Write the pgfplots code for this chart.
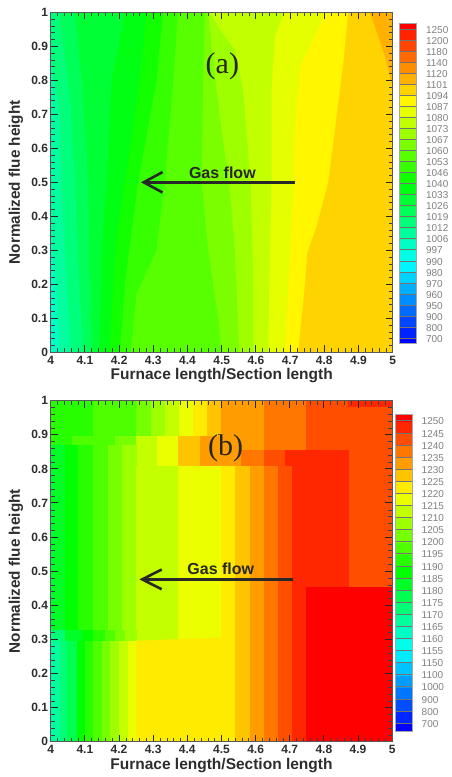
\documentclass[border=0pt]{standalone}
\usepackage{fontspec}
\setmainfont{Liberation Sans}
\newfontfamily\serfont{Liberation Serif}
\usepackage{pgfplots}
\pgfplotsset{compat=1.18}
% palette of the panel (a) legend
\definecolor{A0}{RGB}{0,0,255}\definecolor{A1}{RGB}{0,35,255}\definecolor{A2}{RGB}{0,70,255}
\definecolor{A3}{RGB}{0,106,255}\definecolor{A4}{RGB}{0,141,255}\definecolor{A5}{RGB}{0,176,255}
\definecolor{A6}{RGB}{0,211,255}\definecolor{A7}{RGB}{0,246,255}\definecolor{A8}{RGB}{0,255,229}
\definecolor{A9}{RGB}{0,255,194}\definecolor{A10}{RGB}{0,255,158}\definecolor{A11}{RGB}{0,255,123}
\definecolor{A12}{RGB}{0,255,88}\definecolor{A13}{RGB}{0,255,53}\definecolor{A14}{RGB}{0,255,18}
\definecolor{A15}{RGB}{18,255,0}\definecolor{A16}{RGB}{53,255,0}\definecolor{A17}{RGB}{88,255,0}
\definecolor{A18}{RGB}{123,255,0}\definecolor{A19}{RGB}{158,255,0}\definecolor{A20}{RGB}{194,255,0}
\definecolor{A21}{RGB}{229,255,0}\definecolor{A22}{RGB}{255,246,0}\definecolor{A23}{RGB}{255,211,0}
\definecolor{A24}{RGB}{255,176,0}\definecolor{A25}{RGB}{255,141,0}\definecolor{A26}{RGB}{255,106,0}
\definecolor{A27}{RGB}{255,70,0}\definecolor{A28}{RGB}{255,35,0}\definecolor{A29}{RGB}{255,0,0}
% palette of the panel (b) legend
\definecolor{B0}{RGB}{0,0,255}\definecolor{B1}{RGB}{0,39,255}\definecolor{B2}{RGB}{0,78,255}
\definecolor{B3}{RGB}{0,118,255}\definecolor{B4}{RGB}{0,157,255}\definecolor{B5}{RGB}{0,196,255}
\definecolor{B6}{RGB}{0,235,255}\definecolor{B7}{RGB}{0,255,235}\definecolor{B8}{RGB}{0,255,196}
\definecolor{B9}{RGB}{0,255,157}\definecolor{B10}{RGB}{0,255,118}\definecolor{B11}{RGB}{0,255,78}
\definecolor{B12}{RGB}{0,255,39}\definecolor{B13}{RGB}{0,255,0}\definecolor{B14}{RGB}{39,255,0}
\definecolor{B15}{RGB}{78,255,0}\definecolor{B16}{RGB}{118,255,0}\definecolor{B17}{RGB}{157,255,0}
\definecolor{B18}{RGB}{196,255,0}\definecolor{B19}{RGB}{235,255,0}\definecolor{B20}{RGB}{255,235,0}
\definecolor{B21}{RGB}{255,196,0}\definecolor{B22}{RGB}{255,157,0}\definecolor{B23}{RGB}{255,118,0}
\definecolor{B24}{RGB}{255,78,0}\definecolor{B25}{RGB}{255,39,0}\definecolor{B26}{RGB}{255,0,0}
\definecolor{ink}{RGB}{45,45,45}
\definecolor{arrowink}{RGB}{40,40,40}
% polygon of one contour band
\newcommand\Poly[2]{\addplot[fill=#1,draw=#1,line width=.15pt,forget plot] coordinates {#2};}
% rectangle of one contour band or legend cell: colour, x1, x2, y1, y2
\newcommand\Rect[5]{\addplot[fill=#1,draw=#1,line width=.15pt,forget plot] coordinates {(#2,#4)(#3,#4)(#3,#5)(#2,#5)};}
\pgfplotsset{
  field/.style={
    scale only axis, anchor=south west, axis on top,
    xmin=4, xmax=5, ymin=0, ymax=1,
    xtick={4,4.1,4.2,4.3,4.4,4.5,4.6,4.7,4.8,4.9,5},
    ytick={0,0.1,0.2,0.3,0.4,0.5,0.6,0.7,0.8,0.9,1},
    minor tick num=4,
    major tick length=7pt, minor tick length=4pt,
    major tick style={black!85,line width=1pt},
    minor tick style={black!75,line width=.55pt},
    axis line style={black!65,line width=.8pt},
    /pgf/number format/assume math mode=true,
    tick label style={font=\bfseries\fontsize{12}{13}\selectfont,text=ink},
    xticklabel style={inner sep=0pt,yshift=-3.5pt},
    yticklabel style={inner sep=0pt,xshift=-2.5pt},
    every axis x label/.style={at={(axis description cs:0.5,0)},anchor=center,yshift=-23.5pt,font=\bfseries\fontsize{15.5}{16}\selectfont,text=ink},
    every axis y label/.style={at={(axis description cs:0,0.5)},rotate=90,anchor=center,yshift=34.7pt,font=\bfseries\fontsize{15.3}{16}\selectfont,text=ink},
    xlabel={Furnace length/Section length},
    ylabel={Normalized flue height},
  },
  cbar/.style={
    scale only axis, anchor=south west, axis on top,
    xmin=0, xmax=1, xtick=\empty,
    ymajorgrids, grid style={black!55,line width=.5pt},
    major tick length=0pt,
    yticklabel pos=right,
    axis line style={black!35,line width=.8pt},
    /pgf/number format/assume math mode=true,
    yticklabel style={font=\fontsize{10}{11}\selectfont,text=black!50,inner sep=0pt,anchor=west,xshift=9.2pt,yshift=-.8pt},
  },
}
\begin{document}
\begin{tikzpicture}[x=1pt,y=1pt]
\useasboundingbox (0,0) rectangle (452,777);

% ---------- panel (a)
\begin{axis}[field, at={(50.7pt,424.7pt)}, width=342pt, height=340pt]
\Rect{A9}{4}{5}{0}{1}
\Poly{A10}{(4.027,0)(4.016,.2)(4,.35)(4,1)(5,1)(5,0)}
\Poly{A11}{(4.059,0)(4.047,.2)(4.035,.4)(4.032,.5)(4.027,.7)(4.008,.82)(4,.87)(4,1)(5,1)(5,0)}
\Poly{A12}{(4.096,0)(4.084,.2)(4.071,.5)(4.057,.75)(4.037,.9)(4.025,1)(5,1)(5,0)}
\Poly{A13}{(4.120,0)(4.115,.2)(4.110,.5)(4.091,.8)(4.081,.9)(4.071,1)(5,1)(5,0)}
\Poly{A14}{(4.144,0)(4.149,.3)(4.164,.5)(4.178,.8)(4.208,.95)(4.217,1)(5,1)(5,0)}
\Poly{A15}{(4.173,0)(4.188,.3)(4.217,.5)(4.261,.8)(4.281,1)(5,1)(5,0)}
\Poly{A16}{(4.203,0)(4.217,.2)(4.256,.5)(4.310,.8)(4.329,1)(5,1)(5,0)}
\Poly{A17}{(4.235,0)(4.251,.17)(4.310,.3)(4.334,.5)(4.359,.8)(4.373,1)(5,1)(5,0)}
\Poly{A18}{(4.500,0)(4.490,.1)(4.461,.3)(4.442,.5)(4.446,.8)(4.451,1)(5,1)(5,0)}
\Poly{A19}{(4.552,0)(4.539,.3)(4.522,.5)(4.495,.69)(4.476,.85)(4.461,1)(5,1)(5,0)}
\Poly{A20}{(4.593,0)(4.593,.2)(4.585,.5)(4.563,.77)(4.539,.89)(4.495,.95)(4.466,1)(5,1)(5,0)}
\Poly{A21}{(4.636,0)(4.646,.5)(4.646,.77)(4.656,.93)(4.685,1)(5,1)(5,0)}
\Poly{A22}{(4.685,0)(4.711,.5)(4.714,.66)(4.729,.84)(4.792,.97)(4.797,1)(5,1)(5,0)}
\Poly{A23}{(4.724,0)(4.744,.2)(4.750,.29)(4.778,.37)(4.812,.5)(4.856,.85)(4.870,1)(5,1)(5,0)}
\Poly{A24}{(4.934,1)(4.958,.93)(4.978,.87)(5,.78)(5,1)}
\draw[arrowink,line width=2.6pt] (axis cs:4.714,.5) -- (axis cs:4.272,.5);
\draw[arrowink,line width=2.6pt] (axis cs:4.327,.53) -- (axis cs:4.272,.5) -- (axis cs:4.327,.47);
\node[font=\bfseries\fontsize{16}{17}\selectfont,text=arrowink] at (axis cs:4.502,.528) {Gas flow};
\node[font=\serfont\fontsize{30}{32}\selectfont,text=black!85] at (axis cs:4.502,.842) {(a)};
\end{axis}

\begin{axis}[cbar, at={(399.5pt,433.7pt)}, width=17.2pt, height=320pt,
  ymin=-0.48, ymax=28.52,
  ytick={0,1,2,3,4,5,6,7,8,9,10,11,12,13,14,15,16,17,18,19,20,21,22,23,24,25,26,27,28},
  yticklabels={700,800,900,950,960,970,980,990,997,1006,1012,1019,1026,1033,1040,1046,1053,1060,1067,1073,1080,1087,1094,1101,1120,1140,1180,1200,1250}]
\Rect{A0}{0}{1}{-0.48}{0}\Rect{A1}{0}{1}{0}{1}\Rect{A2}{0}{1}{1}{2}\Rect{A3}{0}{1}{2}{3}
\Rect{A4}{0}{1}{3}{4}\Rect{A5}{0}{1}{4}{5}\Rect{A6}{0}{1}{5}{6}\Rect{A7}{0}{1}{6}{7}
\Rect{A8}{0}{1}{7}{8}\Rect{A9}{0}{1}{8}{9}\Rect{A10}{0}{1}{9}{10}\Rect{A11}{0}{1}{10}{11}
\Rect{A12}{0}{1}{11}{12}\Rect{A13}{0}{1}{12}{13}\Rect{A14}{0}{1}{13}{14}\Rect{A15}{0}{1}{14}{15}
\Rect{A16}{0}{1}{15}{16}\Rect{A17}{0}{1}{16}{17}\Rect{A18}{0}{1}{17}{18}\Rect{A19}{0}{1}{18}{19}
\Rect{A20}{0}{1}{19}{20}\Rect{A21}{0}{1}{20}{21}\Rect{A22}{0}{1}{21}{22}\Rect{A23}{0}{1}{22}{23}
\Rect{A24}{0}{1}{23}{24}\Rect{A25}{0}{1}{24}{25}\Rect{A26}{0}{1}{25}{26}\Rect{A27}{0}{1}{26}{27}
\Rect{A28}{0}{1}{27}{28}\Rect{A29}{0}{1}{28}{28.52}
\end{axis}

% ---------- panel (b)
\begin{axis}[field, at={(50.7pt,35.3pt)}, width=341.5pt, height=341pt]
% upper row
\Rect{B14}{4}{4.125}{.87}{1}
\Rect{B15}{4.125}{4.251}{.895}{1}
\Rect{B16}{4.251}{4.293}{.895}{1}
\Rect{B17}{4.293}{4.334}{.895}{1}
\Rect{B18}{4.334}{4.376}{.895}{1}
\Rect{B19}{4.376}{4.417}{.895}{1}
\Rect{B20}{4.417}{4.458}{.895}{1}
\Rect{B21}{4.458}{4.5}{.895}{1}
\Rect{B22}{4.5}{4.624}{.855}{1}
\Rect{B23}{4.624}{4.749}{.855}{1}
\Rect{B24}{4.749}{5}{.453}{1}
\Rect{B25}{4.872}{5}{.985}{1}
% strip under the upper row
\Rect{B15}{4.063}{4.188}{.87}{.895}
\Rect{B16}{4.188}{4.251}{.87}{.895}
\Rect{B18}{4.251}{4.310}{.809}{.895}
\Rect{B19}{4.310}{4.373}{.809}{.895}
\Rect{B21}{4.373}{4.437}{.809}{.895}
\Rect{B22}{4.437}{4.558}{.809}{.895}
\Rect{B23}{4.558}{4.624}{.809}{.855}
\Rect{B24}{4.624}{4.685}{.809}{.855}
\Rect{B25}{4.685}{4.749}{.809}{.855}
\Rect{B25}{4.749}{4.872}{.453}{.855}
% middle columns
\Rect{B12}{4}{4.042}{.3275}{.87}
\Rect{B13}{4.042}{4.081}{.3275}{.87}
\Rect{B14}{4.081}{4.125}{.3275}{.87}
\Rect{B15}{4.125}{4.167}{.3275}{.87}
\Rect{B16}{4.167}{4.208}{.3275}{.87}
\Rect{B17}{4.208}{4.251}{.3275}{.87}
\Rect{B18}{4.251}{4.373}{.296}{.809}
\Rect{B19}{4.373}{4.5}{.296}{.809}
% strip over the lower row
\Rect{B10}{4}{4.042}{.296}{.3275}
\Rect{B12}{4.042}{4.091}{.296}{.3275}
\Rect{B13}{4.091}{4.125}{.296}{.3275}
\Rect{B14}{4.125}{4.159}{.296}{.3275}
\Rect{B15}{4.159}{4.188}{.296}{.3275}
\Rect{B16}{4.188}{4.217}{.296}{.3275}
\Rect{B17}{4.217}{4.251}{.296}{.3275}
% lower columns
\Rect{B9}{4}{4.027}{0}{.296}
\Rect{B10}{4.027}{4.047}{0}{.296}
\Rect{B11}{4.047}{4.076}{0}{.296}
\Rect{B13}{4.076}{4.1}{0}{.296}
\Rect{B14}{4.1}{4.125}{0}{.296}
\Rect{B15}{4.125}{4.149}{0}{.296}
\Rect{B16}{4.149}{4.175}{0}{.296}
\Rect{B17}{4.175}{4.2}{0}{.296}
\Rect{B18}{4.2}{4.225}{0}{.296}
\Rect{B19}{4.225}{4.251}{0}{.296}
\Poly{B20}{(4.251,0)(4.5,0)(4.5,.305)(4.251,.296)}
% right columns
\Rect{B20}{4.5}{4.539}{0}{.809}
\Rect{B21}{4.539}{4.583}{0}{.809}
\Rect{B22}{4.583}{4.624}{0}{.809}
\Rect{B23}{4.624}{4.666}{0}{.809}
\Rect{B24}{4.666}{4.708}{0}{.809}
\Rect{B25}{4.708}{4.749}{0}{.809}
\Rect{B26}{4.749}{5}{0}{.453}
\draw[arrowink,line width=2.6pt] (axis cs:4.71,.476) -- (axis cs:4.268,.476);
\draw[arrowink,line width=2.6pt] (axis cs:4.325,.505) -- (axis cs:4.268,.476) -- (axis cs:4.325,.447);
\node[font=\bfseries\fontsize{16}{17}\selectfont,text=arrowink] at (axis cs:4.498,.508) {Gas flow};
\node[font=\serfont\fontsize{30}{32}\selectfont,text=black!85] at (axis cs:4.512,.860) {(b)};
\end{axis}

\begin{axis}[cbar, at={(395.7pt,46pt)}, width=16.6pt, height=316.7pt,
  ymin=-0.66, ymax=25.53,
  ytick={0,1,2,3,4,5,6,7,8,9,10,11,12,13,14,15,16,17,18,19,20,21,22,23,24,25},
  yticklabels={700,800,900,1000,1100,1150,1155,1160,1165,1170,1175,1180,1185,1190,1195,1200,1205,1210,1215,1220,1225,1230,1235,1240,1245,1250}]
\Rect{B0}{0}{1}{-0.66}{0}\Rect{B1}{0}{1}{0}{1}\Rect{B2}{0}{1}{1}{2}\Rect{B3}{0}{1}{2}{3}
\Rect{B4}{0}{1}{3}{4}\Rect{B5}{0}{1}{4}{5}\Rect{B6}{0}{1}{5}{6}\Rect{B7}{0}{1}{6}{7}
\Rect{B8}{0}{1}{7}{8}\Rect{B9}{0}{1}{8}{9}\Rect{B10}{0}{1}{9}{10}\Rect{B11}{0}{1}{10}{11}
\Rect{B12}{0}{1}{11}{12}\Rect{B13}{0}{1}{12}{13}\Rect{B14}{0}{1}{13}{14}\Rect{B15}{0}{1}{14}{15}
\Rect{B16}{0}{1}{15}{16}\Rect{B17}{0}{1}{16}{17}\Rect{B18}{0}{1}{17}{18}\Rect{B19}{0}{1}{18}{19}
\Rect{B20}{0}{1}{19}{20}\Rect{B21}{0}{1}{20}{21}\Rect{B22}{0}{1}{21}{22}\Rect{B23}{0}{1}{22}{23}
\Rect{B24}{0}{1}{23}{24}\Rect{B25}{0}{1}{24}{25}\Rect{B26}{0}{1}{25}{25.53}
\end{axis}
\end{tikzpicture}
\end{document}
